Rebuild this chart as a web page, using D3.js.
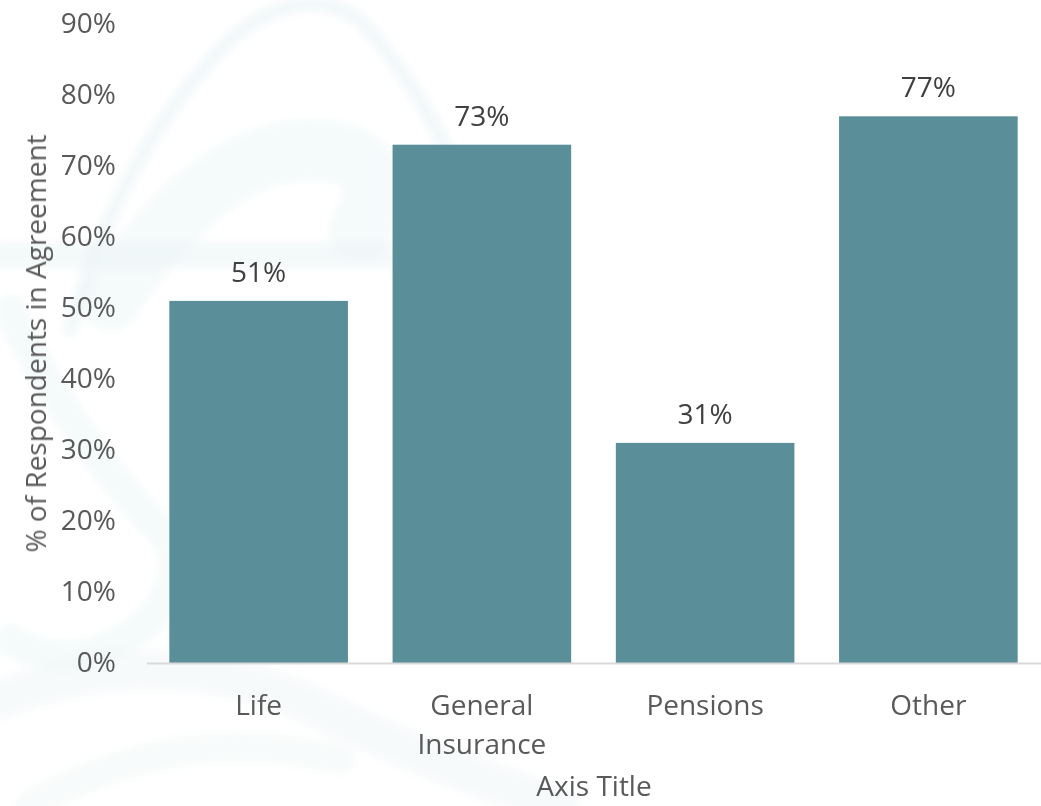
<!DOCTYPE html>
<html>
<head>
<meta charset="utf-8">
<script src="https://cdn.jsdelivr.net/npm/d3@7"></script>
<style>
  html, body { margin: 0; padding: 0; background: #ffffff; }
  svg { display: block; font-family: "Open Sans", "Noto Sans", sans-serif; }
</style>
</head>
<body>
<div id="chart"></div>
<script>
// Share of respondents in agreement, by sector
const categories = ["Life", "General Insurance", "Pensions", "Other"];
const values = [0.51, 0.73, 0.31, 0.77];
const yTicks = [0, 0.1, 0.2, 0.3, 0.4, 0.5, 0.6, 0.7, 0.8, 0.9];
const yTitle = "% of Respondents in Agreement";
const xTitle = "Axis Title";

const width = 1041, height = 806;
const margin = { top: 24, right: 1, bottom: 143, left: 147 };
const fontSize = 28;

const svg = d3.select("#chart").append("svg")
  .attr("width", width)
  .attr("height", height);

// faint decorative backdrop
const defs = svg.append("defs");
defs.append("filter").attr("id", "soft")
  .append("feGaussianBlur").attr("stdDeviation", 4);
const deco = svg.append("g")
  .attr("fill", "none")
  .attr("stroke", "#edf5f6")
  .attr("stroke-linecap", "round")
  .attr("filter", "url(#soft)");
deco.append("path").attr("stroke-width", 14).attr("opacity", 0.7)
  .attr("d", "M70,330 Q120,150 230,40 Q300,-20 360,20 Q470,140 500,330");
deco.append("path").attr("stroke-width", 60).attr("opacity", 0.55)
  .attr("d", "M110,300 Q210,150 310,150 Q400,150 360,230");
deco.append("path").attr("stroke-width", 26).attr("opacity", 0.6)
  .attr("d", "M0,255 L530,255");
deco.append("path").attr("stroke-width", 30).attr("opacity", 0.55)
  .attr("d", "M10,310 Q60,420 150,520 Q200,560 150,620 Q80,680 10,640");
deco.append("path").attr("stroke-width", 40).attr("opacity", 0.45)
  .attr("d", "M0,700 Q150,640 300,700 Q420,760 560,806");
deco.append("path").attr("stroke-width", 30).attr("opacity", 0.4)
  .attr("d", "M30,806 Q180,720 340,760");

const x = d3.scaleBand()
  .domain(categories)
  .range([margin.left, width - margin.right])
  .paddingInner(0.2)
  .paddingOuter(0.1);

const y = d3.scaleLinear()
  .domain([0, 0.9])
  .range([height - margin.bottom, margin.top]);

const fmt = d3.format(".0%");

// bars
svg.append("g").selectAll("rect")
  .data(values)
  .join("rect")
  .attr("x", (d, i) => x(categories[i]))
  .attr("y", d => y(d))
  .attr("width", x.bandwidth())
  .attr("height", d => y(0) - y(d))
  .attr("fill", "#5a8f99");

// value labels
svg.append("g").selectAll("text")
  .data(values)
  .join("text")
  .attr("x", (d, i) => x(categories[i]) + x.bandwidth() / 2)
  .attr("y", d => y(d) - 19)
  .attr("text-anchor", "middle")
  .attr("font-size", fontSize)
  .attr("fill", "#404040")
  .text(d => fmt(d));

// y axis (labels only)
const yAxis = svg.append("g")
  .attr("transform", `translate(${margin.left},0)`)
  .call(d3.axisLeft(y).tickValues(yTicks).tickFormat(fmt).tickSize(0).tickPadding(31));
yAxis.select(".domain").remove();
yAxis.selectAll("text")
  .attr("font-size", fontSize)
  .attr("font-family", "Open Sans, Noto Sans, sans-serif")
  .attr("fill", "#595959");

// x axis
const xAxis = svg.append("g")
  .attr("transform", `translate(0,${y(0)})`)
  .call(d3.axisBottom(x).tickSize(0).tickFormat(() => ""));
xAxis.select(".domain")
  .attr("d", `M${margin.left},0.5H${width}`)
  .attr("stroke", "#d9d9d9")
  .attr("stroke-width", 2);

// category labels, wrapped at spaces
xAxis.selectAll(".tick").each(function(d) {
  const t = d3.select(this).append("text")
    .attr("text-anchor", "middle")
    .attr("font-size", fontSize)
    .attr("font-family", "Open Sans, Noto Sans, sans-serif")
    .attr("fill", "#595959")
    .attr("y", 52);
  d.split(" ").forEach((w, i) => {
    t.append("tspan").attr("x", 0).attr("dy", i === 0 ? 0 : 39).text(w);
  });
});

// axis titles
svg.append("text")
  .attr("x", (margin.left + width) / 2)
  .attr("y", 796)
  .attr("text-anchor", "middle")
  .attr("font-size", fontSize)
  .attr("fill", "#595959")
  .text(xTitle);

svg.append("text")
  .attr("transform", `translate(46,${(y(0) + y(0.9)) / 2}) rotate(-90)`)
  .attr("text-anchor", "middle")
  .attr("font-size", fontSize)
  .attr("fill", "#595959")
  .text(yTitle);
</script>
</body>
</html>
